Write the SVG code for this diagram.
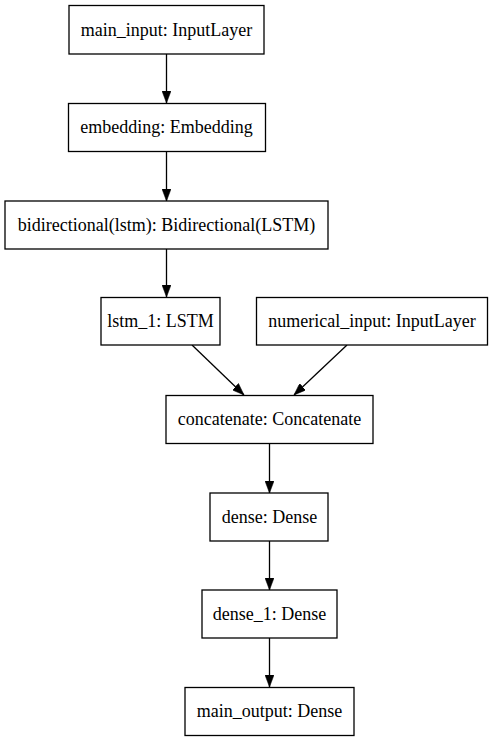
<svg xmlns="http://www.w3.org/2000/svg" width="493" height="741" viewBox="0 0 493 741">
<defs>
<marker id="ah" viewBox="0 0 12 9" refX="12" refY="4.5" markerWidth="12" markerHeight="9" markerUnits="userSpaceOnUse" orient="auto">
<path d="M0,0 L12,4.5 L0,9 Z" fill="#000" stroke="#000" stroke-width="0.5"/>
</marker>
<style>
.box{fill:#fff;stroke:#000;stroke-width:1.3}
.lbl{font-family:"Liberation Serif","Times New Roman",serif;font-size:18px;fill:#000;text-anchor:middle}
.edge{stroke:#000;stroke-width:1.3;fill:none;marker-end:url(#ah)}
</style>
</defs>
<rect width="493" height="741" fill="#fff"/>
<g id="connectors">
<line class="edge" x1="166.5" y1="54" x2="166.5" y2="103"/>
<line class="edge" x1="166.5" y1="151" x2="166.5" y2="201"/>
<line class="edge" x1="166.5" y1="249" x2="166.5" y2="297"/>
<line class="edge" x1="192" y1="345" x2="244" y2="395"/>
<line class="edge" x1="347" y1="345" x2="294" y2="395"/>
<line class="edge" x1="269.5" y1="443" x2="269.5" y2="493"/>
<line class="edge" x1="269.5" y1="541" x2="269.5" y2="590"/>
<line class="edge" x1="269.5" y1="638" x2="269.5" y2="687"/>
</g>
<g id="main_input"><rect class="box" x="69" y="5.5" width="195" height="48.5"/><text class="lbl" x="166.5" y="35.5">main_input: InputLayer</text></g>
<g id="embedding"><rect class="box" x="68.5" y="103.5" width="197" height="48"/><text class="lbl" x="166.5" y="133">embedding: Embedding</text></g>
<g id="bidirectional"><rect class="box" x="5" y="201" width="323" height="48"/><text class="lbl" x="166.5" y="230.5">bidirectional(lstm): Bidirectional(LSTM)</text></g>
<g id="lstm_1"><rect class="box" x="101" y="297.5" width="119" height="47.5"/><text class="lbl" x="160.5" y="327">lstm_1: LSTM</text></g>
<g id="numerical_input"><rect class="box" x="256.5" y="297.5" width="231" height="47.5"/><text class="lbl" x="372" y="327">numerical_input: InputLayer</text></g>
<g id="concatenate"><rect class="box" x="166" y="395.5" width="207" height="48"/><text class="lbl" x="269.5" y="425">concatenate: Concatenate</text></g>
<g id="dense"><rect class="box" x="210" y="493" width="118" height="48"/><text class="lbl" x="269.5" y="522.5">dense: Dense</text></g>
<g id="dense_1"><rect class="box" x="202" y="590" width="135" height="48"/><text class="lbl" x="269.5" y="619.5">dense_1: Dense</text></g>
<g id="main_output"><rect class="box" x="185" y="687.5" width="169" height="48"/><text class="lbl" x="269.5" y="717">main_output: Dense</text></g>
</svg>
